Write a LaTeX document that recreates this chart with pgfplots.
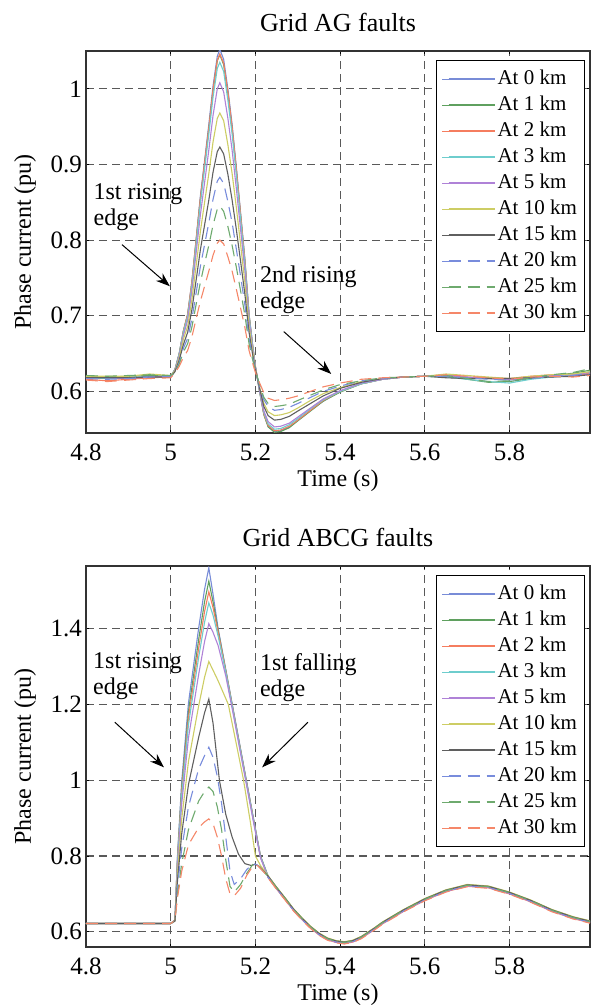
\documentclass[border=0pt]{standalone}
\usepackage{fontspec}
\setmainfont{Liberation Serif}
\usepackage{pgfplots}
\pgfplotsset{compat=1.18}
\usetikzlibrary{arrows.meta}

\definecolor{cA}{RGB}{120,140,215}
\definecolor{cB}{RGB}{95,160,95}
\definecolor{cC}{RGB}{245,125,95}
\definecolor{cD}{RGB}{110,205,205}
\definecolor{cE}{RGB}{175,130,215}
\definecolor{cF}{RGB}{205,205,100}
\definecolor{cG}{RGB}{95,95,95}
\definecolor{cH}{RGB}{120,140,220}
\definecolor{cI}{RGB}{110,170,110}
\definecolor{cJ}{RGB}{245,135,105}

\tikzset{
  dsh/.style={dash pattern=on 6pt off 3.5pt},
  ann/.style={font=\fontsize{12}{13}\selectfont, align=left, inner sep=0pt, anchor=west},
  arr/.style={-{Stealth[length=7pt,width=5pt]}, line width=0.5pt, black},
}

\pgfplotsset{
  faultaxis/.style={
    width=252pt, scale only axis,
    xmin=4.8, xmax=5.99,
    xtick={4.8,5,5.2,5.4,5.6,5.8},
    grid=major,
    major grid style={dash pattern=on 4pt off 2.5pt, black!65, line width=0.6pt},
    tick align=inside, tick pos=both,
    major tick length=1.7pt,
    tick style={black, line width=0.5pt},
    axis line style={line width=0.7pt, black!80},
    ticklabel style={font=\fontsize{12.5}{14}\selectfont},
    /pgf/number format/assume math mode=true,
    xticklabel style={yshift=-2pt},
    yticklabel style={xshift=1.5pt},
    xlabel={Time (s)}, ylabel={Phase current (pu)},
    label style={font=\fontsize{12}{14}\selectfont},
    xlabel style={at={(axis description cs:0.5,0)}, anchor=center, yshift=-24pt},
    ylabel style={at={(axis description cs:-0.121,0.5)}, anchor=center},
    title style={font=\fontsize{13}{15}\selectfont, at={(axis description cs:0.5,1)}, anchor=center, yshift=8.5pt},
    legend style={at={(0.990,0.976)}, anchor=north east, draw=black, line width=0.6pt,
      fill=white, font=\fontsize{10.5}{12}\selectfont, row sep=0pt, inner sep=2.75pt,
      nodes={inner sep=1pt, text height=8.25pt, text depth=2.75pt}},
    legend cell align=left,
    legend image code/.code={\path (-3.25pt,0pt) -- (0pt,0pt);\draw[#1, line width=0.85pt] (0pt,0pt) -- (23pt,0pt);},
    every axis plot/.append style={line width=0.55pt},
  }
}

\begin{document}
\begin{tikzpicture}

% ---------------- Grid AG faults ----------------
\begin{axis}[faultaxis, name=top, at={(0pt,0pt)}, anchor=south west,
  height=191pt, ymin=0.545, ymax=1.05, ytick={0.6,0.7,0.8,0.9,1},
  title={Grid AG faults}]
\addplot[cA] coordinates {(4.80,0.619)(4.85,0.617)(4.90,0.618)(4.95,0.620)(5.00,0.620)
 (5.01,0.629)(5.02,0.650)(5.03,0.680)(5.04,0.702)(5.05,0.745)(5.06,0.801)(5.07,0.858)(5.08,0.905)(5.09,0.953)(5.10,1.004)(5.11,1.043)(5.116,1.052)(5.125,1.039)(5.135,1.000)(5.145,0.953)(5.155,0.896)(5.165,0.836)(5.175,0.776)(5.185,0.702)(5.193,0.663)(5.20,0.633)
 (5.21,0.600)(5.22,0.570)(5.23,0.554)(5.245,0.547)(5.26,0.548)(5.28,0.553)(5.30,0.562)(5.33,0.575)(5.36,0.587)(5.40,0.600)(5.45,0.610)(5.50,0.616)(5.55,0.619)(5.60,0.620)
 (5.65,0.621)(5.70,0.618)(5.75,0.617)(5.80,0.615)(5.85,0.618)(5.90,0.619)(5.95,0.621)(5.99,0.623)};
\addlegendentry{At 0 km}
\addplot[cB] coordinates {(4.80,0.620)(4.85,0.619)(4.90,0.620)(4.95,0.621)(5.00,0.620)
 (5.01,0.629)(5.02,0.650)(5.03,0.680)(5.04,0.701)(5.05,0.743)(5.06,0.799)(5.07,0.854)(5.08,0.901)(5.09,0.947)(5.10,0.998)(5.11,1.037)(5.116,1.045)(5.125,1.032)(5.135,0.994)(5.145,0.947)(5.155,0.892)(5.165,0.833)(5.175,0.773)(5.185,0.701)(5.193,0.663)(5.20,0.633)
 (5.21,0.599)(5.22,0.569)(5.23,0.553)(5.245,0.546)(5.26,0.547)(5.28,0.552)(5.30,0.561)(5.33,0.574)(5.36,0.587)(5.40,0.599)(5.45,0.610)(5.50,0.616)(5.55,0.619)(5.60,0.620)
 (5.65,0.620)(5.70,0.616)(5.75,0.612)(5.80,0.613)(5.85,0.617)(5.90,0.621)(5.95,0.624)(5.99,0.628)};
\addlegendentry{At 1 km}
\addplot[cC] coordinates {(4.80,0.616)(4.85,0.614)(4.90,0.616)(4.95,0.618)(5.00,0.619)
 (5.01,0.628)(5.02,0.649)(5.03,0.680)(5.04,0.702)(5.05,0.745)(5.06,0.800)(5.07,0.855)(5.08,0.902)(5.09,0.948)(5.10,0.999)(5.11,1.038)(5.116,1.046)(5.125,1.034)(5.135,0.996)(5.145,0.949)(5.155,0.894)(5.165,0.834)(5.175,0.774)(5.185,0.701)(5.193,0.662)(5.20,0.632)
 (5.21,0.600)(5.22,0.570)(5.23,0.555)(5.245,0.548)(5.26,0.549)(5.28,0.554)(5.30,0.562)(5.33,0.575)(5.36,0.588)(5.40,0.600)(5.45,0.610)(5.50,0.616)(5.55,0.619)(5.60,0.620)
 (5.65,0.622)(5.70,0.619)(5.75,0.618)(5.80,0.617)(5.85,0.620)(5.90,0.622)(5.95,0.621)(5.99,0.624)};
\addlegendentry{At 2 km}
\addplot[cD] coordinates {(4.80,0.618)(4.85,0.617)(4.90,0.618)(4.95,0.619)(5.00,0.620)
 (5.01,0.628)(5.02,0.649)(5.03,0.678)(5.04,0.699)(5.05,0.740)(5.06,0.794)(5.07,0.848)(5.08,0.894)(5.09,0.940)(5.10,0.989)(5.11,1.027)(5.116,1.035)(5.125,1.023)(5.135,0.985)(5.145,0.940)(5.155,0.886)(5.165,0.828)(5.175,0.769)(5.185,0.699)(5.193,0.662)(5.20,0.632)
 (5.21,0.600)(5.22,0.572)(5.23,0.557)(5.245,0.550)(5.26,0.551)(5.28,0.556)(5.30,0.564)(5.33,0.577)(5.36,0.589)(5.40,0.600)(5.45,0.610)(5.50,0.616)(5.55,0.619)(5.60,0.620)
 (5.65,0.619)(5.70,0.616)(5.75,0.613)(5.80,0.611)(5.85,0.616)(5.90,0.619)(5.95,0.622)(5.99,0.626)};
\addlegendentry{At 3 km}
\addplot[cE] coordinates {(4.80,0.619)(4.85,0.618)(4.90,0.617)(4.95,0.619)(5.00,0.620)
 (5.01,0.628)(5.02,0.647)(5.03,0.674)(5.04,0.694)(5.05,0.733)(5.06,0.783)(5.07,0.833)(5.08,0.876)(5.09,0.919)(5.10,0.965)(5.11,1.000)(5.116,1.008)(5.125,0.996)(5.135,0.961)(5.145,0.919)(5.155,0.868)(5.165,0.814)(5.175,0.760)(5.185,0.694)(5.193,0.659)(5.20,0.632)
 (5.21,0.601)(5.22,0.574)(5.23,0.560)(5.245,0.553)(5.26,0.554)(5.28,0.558)(5.30,0.566)(5.33,0.578)(5.36,0.590)(5.40,0.601)(5.45,0.611)(5.50,0.616)(5.55,0.619)(5.60,0.620)
 (5.65,0.621)(5.70,0.619)(5.75,0.617)(5.80,0.616)(5.85,0.619)(5.90,0.621)(5.95,0.622)(5.99,0.625)};
\addlegendentry{At 5 km}
\addplot[cF] coordinates {(4.80,0.620)(4.85,0.620)(4.90,0.620)(4.95,0.623)(5.00,0.621)
 (5.01,0.627)(5.02,0.644)(5.03,0.669)(5.04,0.686)(5.05,0.721)(5.06,0.766)(5.07,0.811)(5.08,0.850)(5.09,0.888)(5.10,0.930)(5.11,0.961)(5.116,0.968)(5.125,0.958)(5.135,0.926)(5.145,0.888)(5.155,0.843)(5.165,0.794)(5.175,0.745)(5.185,0.686)(5.193,0.655)(5.20,0.630)
 (5.21,0.605)(5.22,0.584)(5.23,0.573)(5.245,0.568)(5.26,0.569)(5.28,0.572)(5.30,0.578)(5.33,0.588)(5.36,0.597)(5.40,0.605)(5.45,0.613)(5.50,0.617)(5.55,0.619)(5.60,0.620)
 (5.65,0.623)(5.70,0.621)(5.75,0.619)(5.80,0.617)(5.85,0.620)(5.90,0.622)(5.95,0.623)(5.99,0.626)};
\addlegendentry{At 10 km}
\addplot[cG] coordinates {(4.80,0.618)(4.85,0.618)(4.90,0.618)(4.95,0.619)(5.00,0.619)
 (5.01,0.626)(5.02,0.641)(5.03,0.662)(5.04,0.678)(5.05,0.708)(5.06,0.747)(5.07,0.787)(5.08,0.820)(5.09,0.853)(5.10,0.890)(5.11,0.917)(5.116,0.923)(5.125,0.914)(5.135,0.887)(5.145,0.853)(5.155,0.814)(5.165,0.772)(5.175,0.729)(5.185,0.678)(5.193,0.650)(5.20,0.629)
 (5.21,0.604)(5.22,0.580)(5.23,0.568)(5.245,0.562)(5.26,0.563)(5.28,0.567)(5.30,0.574)(5.33,0.584)(5.36,0.594)(5.40,0.604)(5.45,0.612)(5.50,0.617)(5.55,0.619)(5.60,0.620)
 (5.65,0.618)(5.70,0.617)(5.75,0.617)(5.80,0.617)(5.85,0.618)(5.90,0.619)(5.95,0.620)(5.99,0.622)};
\addlegendentry{At 15 km}
\addplot[cH, dsh] coordinates {(4.80,0.617)(4.85,0.616)(4.90,0.617)(4.95,0.619)(5.00,0.620)
 (5.01,0.625)(5.02,0.638)(5.03,0.657)(5.04,0.670)(5.05,0.696)(5.06,0.730)(5.07,0.765)(5.08,0.794)(5.09,0.823)(5.10,0.854)(5.11,0.878)(5.116,0.883)(5.125,0.875)(5.135,0.851)(5.145,0.823)(5.155,0.788)(5.165,0.752)(5.175,0.715)(5.185,0.670)(5.193,0.646)(5.20,0.628)
 (5.21,0.607)(5.22,0.589)(5.23,0.580)(5.245,0.575)(5.26,0.576)(5.28,0.579)(5.30,0.584)(5.33,0.592)(5.36,0.600)(5.40,0.607)(5.45,0.614)(5.50,0.617)(5.55,0.619)(5.60,0.620)
 (5.65,0.620)(5.70,0.618)(5.75,0.616)(5.80,0.615)(5.85,0.617)(5.90,0.620)(5.95,0.621)(5.99,0.624)};
\addlegendentry{At 20 km}
\addplot[cI, dsh] coordinates {(4.80,0.621)(4.85,0.620)(4.90,0.621)(4.95,0.622)(5.00,0.621)
 (5.01,0.625)(5.02,0.636)(5.03,0.652)(5.04,0.663)(5.05,0.685)(5.06,0.715)(5.07,0.744)(5.08,0.769)(5.09,0.793)(5.10,0.820)(5.11,0.841)(5.116,0.845)(5.125,0.838)(5.135,0.818)(5.145,0.793)(5.155,0.764)(5.165,0.733)(5.175,0.701)(5.185,0.663)(5.193,0.643)(5.20,0.627)
 (5.21,0.609)(5.22,0.592)(5.23,0.584)(5.245,0.580)(5.26,0.581)(5.28,0.583)(5.30,0.588)(5.33,0.595)(5.36,0.602)(5.40,0.609)(5.45,0.614)(5.50,0.618)(5.55,0.619)(5.60,0.620)
 (5.65,0.621)(5.70,0.617)(5.75,0.613)(5.80,0.614)(5.85,0.618)(5.90,0.622)(5.95,0.625)(5.99,0.630)};
\addlegendentry{At 25 km}
\addplot[cJ, dsh] coordinates {(4.80,0.615)(4.85,0.613)(4.90,0.615)(4.95,0.617)(5.00,0.618)
 (5.01,0.624)(5.02,0.633)(5.03,0.645)(5.04,0.654)(5.05,0.672)(5.06,0.696)(5.07,0.719)(5.08,0.739)(5.09,0.759)(5.10,0.780)(5.11,0.796)(5.116,0.800)(5.125,0.795)(5.135,0.778)(5.145,0.759)(5.155,0.735)(5.165,0.710)(5.175,0.685)(5.185,0.654)(5.193,0.638)(5.20,0.625)
 (5.21,0.611)(5.22,0.598)(5.23,0.591)(5.245,0.588)(5.26,0.589)(5.28,0.591)(5.30,0.594)(5.33,0.600)(5.36,0.606)(5.40,0.611)(5.45,0.616)(5.50,0.618)(5.55,0.619)(5.60,0.620)
 (5.65,0.622)(5.70,0.620)(5.75,0.618)(5.80,0.616)(5.85,0.619)(5.90,0.620)(5.95,0.619)(5.99,0.621)};
\addlegendentry{At 30 km}
\node[ann] at (axis cs:4.817,0.844) {1st rising\\edge};
\node[ann] at (axis cs:5.21,0.7345) {2nd rising\\edge};
\draw[arr] (axis cs:4.885,0.794) -- (axis cs:4.998,0.739);
\draw[arr] (axis cs:5.267,0.679) -- (axis cs:5.379,0.623);
\end{axis}

% ---------------- Grid ABCG faults ----------------
\begin{axis}[faultaxis, name=bot, at={(0pt,-257pt)}, anchor=south west,
  height=190.5pt, ymin=0.56, ymax=1.565, ytick={0.6,0.8,1,1.2,1.4},
  title={Grid ABCG faults}]
\addplot[cA] coordinates {(4.80,0.622)(4.90,0.622)(5.00,0.622)
 (5.01,0.631)(5.016,0.800)(5.026,0.997)(5.042,1.204)(5.066,1.401)(5.08,1.504)(5.09,1.560)
 (5.10,1.490)(5.112,1.400)(5.13,1.292)(5.148,1.184)(5.165,1.082)(5.178,1.004)(5.195,0.902)(5.212,0.800)
 (5.23,0.745)(5.25,0.715)(5.27,0.687)(5.29,0.658)(5.31,0.634)(5.33,0.612)(5.35,0.594)(5.37,0.581)(5.39,0.574)(5.41,0.571)(5.43,0.575)(5.45,0.585)(5.48,0.607)(5.50,0.623)(5.55,0.656)(5.60,0.685)(5.65,0.708)(5.70,0.722)(5.75,0.718)(5.80,0.702)(5.85,0.681)(5.90,0.656)(5.95,0.637)(5.99,0.626)};
\addlegendentry{At 0 km}
\addplot[cB] coordinates {(4.80,0.622)(4.90,0.622)(5.00,0.622)
 (5.01,0.631)(5.016,0.794)(5.026,0.983)(5.042,1.182)(5.066,1.371)(5.08,1.471)(5.09,1.525)
 (5.10,1.470)(5.112,1.395)(5.13,1.290)(5.148,1.182)(5.165,1.080)(5.178,1.002)(5.195,0.900)(5.212,0.800)
 (5.23,0.747)(5.25,0.717)(5.27,0.689)(5.29,0.660)(5.31,0.636)(5.33,0.614)(5.35,0.596)(5.37,0.583)(5.39,0.576)(5.41,0.573)(5.43,0.577)(5.45,0.587)(5.48,0.609)(5.50,0.625)(5.55,0.658)(5.60,0.687)(5.65,0.710)(5.70,0.724)(5.75,0.720)(5.80,0.704)(5.85,0.683)(5.90,0.658)(5.95,0.639)(5.99,0.628)};
\addlegendentry{At 1 km}
\addplot[cC] coordinates {(4.80,0.622)(4.90,0.622)(5.00,0.622)
 (5.01,0.631)(5.016,0.788)(5.026,0.972)(5.042,1.165)(5.066,1.348)(5.08,1.445)(5.09,1.497)
 (5.10,1.455)(5.112,1.390)(5.13,1.288)(5.148,1.180)(5.165,1.078)(5.178,1.000)(5.195,0.898)(5.212,0.798)
 (5.23,0.743)(5.25,0.713)(5.27,0.685)(5.29,0.656)(5.31,0.632)(5.33,0.610)(5.35,0.592)(5.37,0.579)(5.39,0.572)(5.41,0.569)(5.43,0.573)(5.45,0.583)(5.48,0.605)(5.50,0.621)(5.55,0.654)(5.60,0.683)(5.65,0.706)(5.70,0.720)(5.75,0.716)(5.80,0.700)(5.85,0.679)(5.90,0.654)(5.95,0.635)(5.99,0.624)};
\addlegendentry{At 2 km}
\addplot[cD] coordinates {(4.80,0.622)(4.90,0.622)(5.00,0.622)
 (5.01,0.630)(5.016,0.783)(5.026,0.960)(5.042,1.147)(5.066,1.324)(5.08,1.417)(5.09,1.468)
 (5.10,1.435)(5.112,1.380)(5.13,1.285)(5.148,1.178)(5.165,1.076)(5.178,0.998)(5.195,0.896)(5.212,0.797)
 (5.23,0.746)(5.25,0.716)(5.27,0.688)(5.29,0.659)(5.31,0.635)(5.33,0.613)(5.35,0.595)(5.37,0.582)(5.39,0.575)(5.41,0.572)(5.43,0.576)(5.45,0.586)(5.48,0.608)(5.50,0.624)(5.55,0.657)(5.60,0.686)(5.65,0.709)(5.70,0.723)(5.75,0.719)(5.80,0.703)(5.85,0.682)(5.90,0.657)(5.95,0.638)(5.99,0.627)};
\addlegendentry{At 3 km}
\addplot[cE] coordinates {(4.80,0.622)(4.90,0.622)(5.00,0.622)
 (5.01,0.630)(5.016,0.772)(5.026,0.938)(5.042,1.112)(5.066,1.279)(5.08,1.366)(5.09,1.413)
 (5.10,1.390)(5.112,1.355)(5.13,1.275)(5.148,1.172)(5.165,1.070)(5.178,0.993)(5.195,0.892)(5.212,0.795)
 (5.23,0.744)(5.25,0.714)(5.27,0.686)(5.29,0.657)(5.31,0.633)(5.33,0.611)(5.35,0.593)(5.37,0.580)(5.39,0.573)(5.41,0.570)(5.43,0.574)(5.45,0.584)(5.48,0.606)(5.50,0.622)(5.55,0.655)(5.60,0.684)(5.65,0.707)(5.70,0.721)(5.75,0.717)(5.80,0.701)(5.85,0.680)(5.90,0.655)(5.95,0.636)(5.99,0.625)};
\addlegendentry{At 5 km}
\addplot[cF] coordinates {(4.80,0.622)(4.90,0.622)(5.00,0.622)
 (5.01,0.629)(5.016,0.753)(5.026,0.898)(5.042,1.050)(5.066,1.196)(5.08,1.272)(5.09,1.313)
 (5.10,1.290)(5.112,1.262)(5.136,1.200)(5.155,1.095)(5.172,1.000)(5.188,0.890)(5.20,0.800)(5.212,0.775)
 (5.23,0.748)(5.25,0.718)(5.27,0.690)(5.29,0.661)(5.31,0.637)(5.33,0.615)(5.35,0.597)(5.37,0.584)(5.39,0.577)(5.41,0.574)(5.43,0.578)(5.45,0.588)(5.48,0.610)(5.50,0.626)(5.55,0.659)(5.60,0.688)(5.65,0.711)(5.70,0.725)(5.75,0.721)(5.80,0.705)(5.85,0.684)(5.90,0.659)(5.95,0.640)(5.99,0.629)};
\addlegendentry{At 10 km}
\addplot[cG] coordinates {(4.80,0.622)(4.90,0.622)(5.00,0.622)
 (5.01,0.628)(5.016,0.734)(5.026,0.859)(5.042,0.989)(5.066,1.113)(5.08,1.178)(5.09,1.214)
 (5.10,1.150)(5.115,1.000)(5.13,0.910)(5.145,0.850)(5.16,0.805)(5.175,0.780)(5.19,0.775)(5.20,0.778)(5.21,0.772)
 (5.23,0.747)(5.25,0.717)(5.27,0.689)(5.29,0.660)(5.31,0.636)(5.33,0.614)(5.35,0.596)(5.37,0.583)(5.39,0.576)(5.41,0.573)(5.43,0.577)(5.45,0.587)(5.48,0.609)(5.50,0.625)(5.55,0.658)(5.60,0.687)(5.65,0.710)(5.70,0.724)(5.75,0.720)(5.80,0.704)(5.85,0.683)(5.90,0.658)(5.95,0.639)(5.99,0.628)};
\addlegendentry{At 15 km}
\addplot[cH, dsh] coordinates {(4.80,0.622)(4.90,0.622)(5.00,0.622)
 (5.01,0.630)(5.016,0.720)(5.026,0.820)(5.042,0.930)(5.066,1.030)(5.08,1.065)(5.09,1.087)
 (5.10,1.060)(5.11,1.010)(5.12,0.940)(5.13,0.850)(5.14,0.760)(5.15,0.725)(5.165,0.740)(5.18,0.765)(5.195,0.780)(5.205,0.776)(5.22,0.758)
 (5.23,0.744)(5.25,0.714)(5.27,0.686)(5.29,0.657)(5.31,0.633)(5.33,0.611)(5.35,0.593)(5.37,0.580)(5.39,0.573)(5.41,0.570)(5.43,0.574)(5.45,0.584)(5.48,0.606)(5.50,0.622)(5.55,0.655)(5.60,0.684)(5.65,0.707)(5.70,0.721)(5.75,0.717)(5.80,0.701)(5.85,0.680)(5.90,0.655)(5.95,0.636)(5.99,0.625)};
\addlegendentry{At 20 km}
\addplot[cI, dsh] coordinates {(4.80,0.622)(4.90,0.622)(5.00,0.622)
 (5.01,0.630)(5.016,0.700)(5.026,0.780)(5.042,0.870)(5.066,0.945)(5.08,0.970)(5.09,0.982)
 (5.10,0.970)(5.11,0.930)(5.12,0.870)(5.13,0.790)(5.14,0.720)(5.15,0.705)(5.165,0.725)(5.18,0.755)(5.195,0.780)(5.205,0.778)(5.22,0.758)
 (5.23,0.746)(5.25,0.716)(5.27,0.688)(5.29,0.659)(5.31,0.635)(5.33,0.613)(5.35,0.595)(5.37,0.582)(5.39,0.575)(5.41,0.572)(5.43,0.576)(5.45,0.586)(5.48,0.608)(5.50,0.624)(5.55,0.657)(5.60,0.686)(5.65,0.709)(5.70,0.723)(5.75,0.719)(5.80,0.703)(5.85,0.682)(5.90,0.657)(5.95,0.638)(5.99,0.627)};
\addlegendentry{At 25 km}
\addplot[cJ, dsh] coordinates {(4.80,0.622)(4.90,0.622)(5.00,0.622)
 (5.01,0.630)(5.016,0.690)(5.026,0.760)(5.042,0.830)(5.066,0.875)(5.08,0.890)(5.09,0.898)
 (5.10,0.885)(5.11,0.850)(5.12,0.800)(5.13,0.740)(5.14,0.700)(5.15,0.695)(5.165,0.715)(5.18,0.750)(5.195,0.775)(5.205,0.775)(5.22,0.758)
 (5.23,0.742)(5.25,0.712)(5.27,0.684)(5.29,0.655)(5.31,0.631)(5.33,0.609)(5.35,0.591)(5.37,0.578)(5.39,0.571)(5.41,0.568)(5.43,0.572)(5.45,0.582)(5.48,0.604)(5.50,0.620)(5.55,0.653)(5.60,0.682)(5.65,0.705)(5.70,0.719)(5.75,0.715)(5.80,0.699)(5.85,0.678)(5.90,0.653)(5.95,0.634)(5.99,0.623)};
\addlegendentry{At 30 km}
\node[ann] at (axis cs:4.816,1.2755) {1st rising\\edge};
\node[ann] at (axis cs:5.21,1.27) {1st falling\\edge};
\draw[arr] (axis cs:4.868,1.153) -- (axis cs:4.984,1.034);
\draw[arr] (axis cs:5.324,1.153) -- (axis cs:5.216,1.034);
\end{axis}

\pgfresetboundingbox
\path (-43pt,-286pt) rectangle (254pt,216.5pt);
\end{tikzpicture}
\end{document}
